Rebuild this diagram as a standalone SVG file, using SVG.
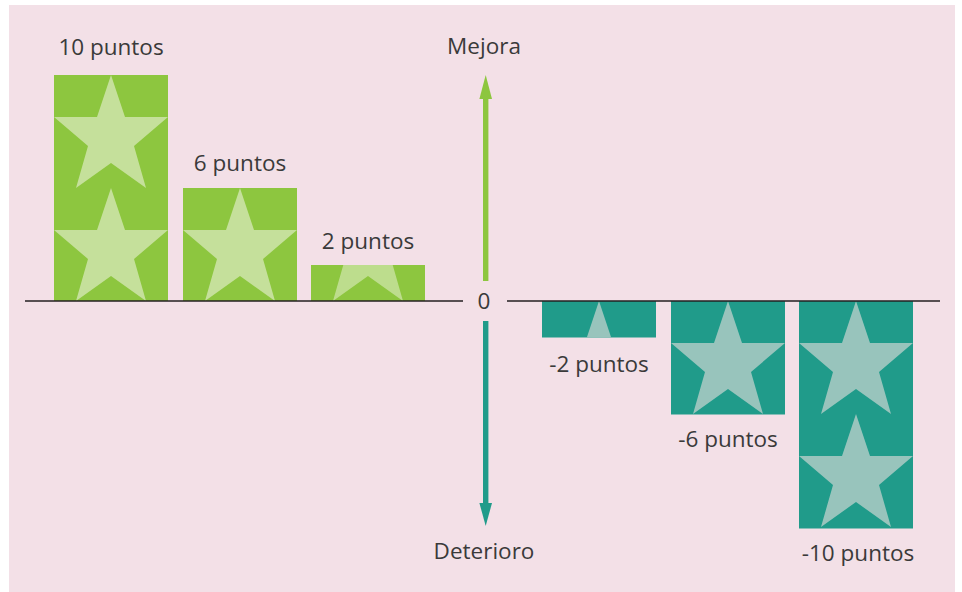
<svg xmlns="http://www.w3.org/2000/svg" xmlns:xlink="http://www.w3.org/1999/xlink" width="962" height="592" viewBox="0 0 962 592">
  <style>
    .lbl { font-family: "Open Sans", "Liberation Sans", sans-serif; font-size: 22.5px; font-weight: 400; fill: #3a3a3a; text-anchor: middle; }
    .gbar { fill: #8dc63f; }
    .tbar { fill: #209b8a; }
    .gstar { fill: #c5e09b; }
    .tstar { fill: #98c4bc; }
    .axis { stroke: #231f20; stroke-width: 1.5; fill: none; }
  </style>
  <defs>
    <path id="star" d="M57,0 L71,42 L114,42 L80,71 L92,113 L57,88 L22,113 L34,71 L0,42 L43,42 Z"/>
    <clipPath id="clip3"><rect x="311" y="265" width="114" height="36"/></clipPath>
    <clipPath id="clipm2"><rect x="542" y="301" width="114" height="36.5"/></clipPath>
  </defs>
  <rect x="9" y="5" width="946" height="587" fill="#f3e0e7"/>

  <g id="bar-10">
    <rect class="gbar" x="54" y="75" width="114" height="226"/>
    <use href="#star" xlink:href="#star" class="gstar" x="54" y="75"/>
    <use href="#star" xlink:href="#star" class="gstar" x="54" y="188"/>
    <text class="lbl" x="111" y="55">10 puntos</text>
  </g>
  <g id="bar-6">
    <rect class="gbar" x="183" y="188" width="114" height="113"/>
    <use href="#star" xlink:href="#star" class="gstar" x="183" y="188"/>
    <text class="lbl" x="240" y="171">6 puntos</text>
  </g>
  <g id="bar-2">
    <rect class="gbar" x="311" y="265" width="114" height="36"/>
    <g clip-path="url(#clip3)">
      <use href="#star" xlink:href="#star" class="gstar" x="311" y="188" opacity="0.85"/>
    </g>
    <text class="lbl" x="368" y="249">2 puntos</text>
  </g>
  <g id="bar-m2">
    <rect class="tbar" x="542" y="301" width="114" height="36.5"/>
    <g clip-path="url(#clipm2)">
      <use href="#star" xlink:href="#star" class="tstar" x="542" y="301"/>
    </g>
    <text class="lbl" x="599" y="372">-2 puntos</text>
  </g>
  <g id="bar-m6">
    <rect class="tbar" x="671" y="301" width="114" height="113.5"/>
    <use href="#star" xlink:href="#star" class="tstar" x="671" y="301"/>
    <text class="lbl" x="728" y="447">-6 puntos</text>
  </g>
  <g id="bar-m10">
    <rect class="tbar" x="799" y="301" width="114" height="227.5"/>
    <use href="#star" xlink:href="#star" class="tstar" x="799" y="301"/>
    <use href="#star" xlink:href="#star" class="tstar" x="799" y="414"/>
    <text class="lbl" x="858" y="561">-10 puntos</text>
  </g>

  <g id="connectors">
    <line class="axis" x1="25" y1="301" x2="463" y2="301"/>
    <line class="axis" x1="507" y1="301" x2="940" y2="301"/>
    <rect x="483" y="97" width="5.4" height="184" fill="#8dc63f"/>
    <polygon points="485.7,75 492,99 479.4,99" fill="#8dc63f"/>
    <rect x="483" y="321" width="5.4" height="184" fill="#209b8a"/>
    <polygon points="485.7,526 492,503 479.4,503" fill="#209b8a"/>
  </g>

  <g id="axis-labels">
    <text class="lbl" x="484" y="309">0</text>
    <text class="lbl" x="484" y="54">Mejora</text>
    <text class="lbl" x="484" y="559">Deterioro</text>
  </g>
</svg>
